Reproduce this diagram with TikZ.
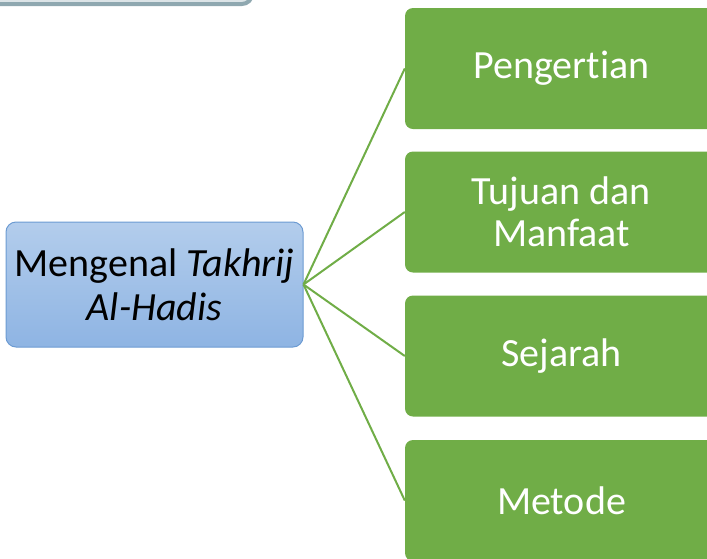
\documentclass[tikz,border=0pt]{standalone}
\usepackage{fontspec}
\setmainfont[Ligatures=NoCommon]{Carlito}
\definecolor{leafgreen}{HTML}{70AD47}
\definecolor{skytop}{HTML}{B3CDEC}
\definecolor{skybot}{HTML}{8EB4E3}
\definecolor{skyline}{HTML}{6C9BD2}
\definecolor{slateline}{HTML}{8FA8B0}
\definecolor{slatefill}{HTML}{DCE4E7}
\begin{document}
\begin{tikzpicture}[x=1pt,y=-1pt,
  topic/.style={draw=skyline, line width=1pt, rounded corners=10pt,
    top color=skytop, bottom color=skybot, minimum width=297pt,
    minimum height=125pt, align=center, inner sep=0pt,
    font=\fontsize{40}{44}\selectfont},
  leaf/.style={fill=leafgreen, rounded corners=8pt, minimum width=313pt,
    minimum height=121pt, align=center, inner sep=0pt, text=white,
    font=\fontsize{40}{42}\selectfont},
  link/.style={draw=leafgreen, line width=2pt}]
\useasboundingbox (0,0) rectangle (707,558);
\clip (0,0) rectangle (707,558);
% edge of a panel above the diagram
\draw[draw=slateline, fill=slatefill, line width=4pt, rounded corners=10pt]
  (-30,-100) rectangle (252,4);
% central topic
\node[topic] (root) at (154.5,284.5) {Mengenal \textit{Takhrij}\\\textit{Al-Hadis}};
% branches
\node[leaf] (a) at (561.5,68.5) {Pengertian};
\node[leaf] (b) at (561.5,212) {Tujuan dan\\Manfaat};
\node[leaf] (c) at (561.5,356) {Sejarah};
\node[leaf] (d) at (561.5,500.5) {Metode};
\foreach \n in {a,b,c,d}
  \draw[link] (root.east) -- (\n.west);
\end{tikzpicture}
\end{document}
